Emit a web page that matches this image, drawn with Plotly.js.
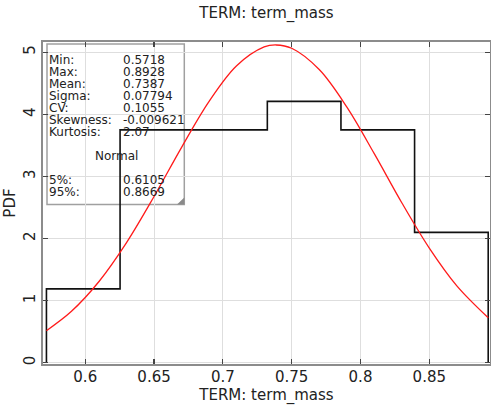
<!DOCTYPE html>
<html>
<head>
<meta charset="utf-8">
<script src="https://cdn.plot.ly/plotly-3.0.1.min.js"></script>
<style>html,body{margin:0;padding:0;background:#fff;}#chart{width:491px;height:406px;}</style>
</head>
<body>
<div id="chart"></div>
<script>
// ---- data ----
var binEdges = [0.5718, 0.6253, 0.6788, 0.7323, 0.7858, 0.8393, 0.8928];
var binDensity = [1.19, 3.75, 3.75, 4.21, 3.75, 2.10];
var fitX = [0.5718, 0.59, 0.61, 0.63, 0.65, 0.67, 0.69, 0.71, 0.73, 0.7387, 0.75, 0.77, 0.79, 0.81, 0.83, 0.85, 0.87, 0.8928];
var fitY = [0.517, 0.829, 1.309, 1.935, 2.678, 3.470, 4.210, 4.783, 5.086, 5.118, 5.065, 4.722, 4.121, 3.368, 2.577, 1.846, 1.238, 0.725];
var statLabels = ['Min:', 'Max:', 'Mean:', 'Sigma:', 'CV:', 'Skewness:', 'Kurtosis:'];
var statValues = ['0.5718', '0.8928', '0.7387', '0.07794', '0.1055', '-0.009621', '2.07'];
var fitName = 'Normal';
var pctLabels = ['5%:', '95%:'];
var pctValues = ['0.6105', '0.8669'];
var xTickVals = [0.6, 0.65, 0.7, 0.75, 0.8, 0.85];
var xTickText = ['0.6', '0.65', '0.7', '0.75', '0.8', '0.85'];
var yTickVals = [0, 1, 2, 3, 4, 5];

// ---- build step outline of histogram ----
var hx = [binEdges[0]], hy = [0];
for (var i = 0; i < binDensity.length; i++) { hx.push(binEdges[i]); hy.push(binDensity[i]); }
hx.push(binEdges[binEdges.length - 1]); hy.push(binDensity[binDensity.length - 1]);
hx.push(binEdges[binEdges.length - 1]); hy.push(0);

var W = 491, H = 406;
var M = {l: 43, r: 1, t: 42, b: 42};
var PW = W - M.l - M.r, PH = H - M.t - M.b;
function px(x) { return (x - M.l) / PW; }
function py(y) { return (H - M.b - y) / PH; }

var font = 'DejaVu Sans, Verdana, sans-serif';
// multi-line blocks: base font sets the 12px line pitch, spans set the 12px glyph size
var baseF = {family: font, size: 12 / 1.3, color: '#222'};
function block(lines) {
  return lines.map(function (t) { return '<span style="font-size:12px">' + t + '</span>'; }).join('<br>');
}
var annotations = [
  {xref: 'paper', yref: 'paper', x: px(48), y: py(96), xanchor: 'left', yanchor: 'middle', align: 'left', text: block(statLabels), showarrow: false, font: baseF, borderpad: 0},
  {xref: 'paper', yref: 'paper', x: px(121.5), y: py(96), xanchor: 'left', yanchor: 'middle', align: 'left', text: block(statValues), showarrow: false, font: baseF, borderpad: 0},
  {xref: 'paper', yref: 'paper', x: px(116), y: py(156), xanchor: 'center', yanchor: 'middle', text: fitName, showarrow: false, font: {family: font, size: 12, color: '#222'}, borderpad: 0},
  {xref: 'paper', yref: 'paper', x: px(48), y: py(185.5), xanchor: 'left', yanchor: 'middle', align: 'left', text: block(pctLabels), showarrow: false, font: baseF, borderpad: 0},
  {xref: 'paper', yref: 'paper', x: px(121.5), y: py(185.5), xanchor: 'left', yanchor: 'middle', align: 'left', text: block(pctValues), showarrow: false, font: baseF, borderpad: 0}
];

var shapes = [
  {type: 'rect', xref: 'paper', yref: 'paper', x0: px(47), x1: px(184.3), y0: py(204.5), y1: py(44), line: {color: '#a0a0a0', width: 1.5}, fillcolor: 'rgba(255,255,255,0.65)', layer: 'between'},
  {type: 'path', xref: 'paper', yref: 'paper', path: 'M ' + px(177) + ' ' + py(204.5) + ' L ' + px(184.3) + ' ' + py(204.5) + ' L ' + px(184.3) + ' ' + py(197.5) + ' Z', fillcolor: '#8a8a8a', line: {width: 0}, layer: 'above'}
];

var traces = [
  {x: hx, y: hy, type: 'scatter', mode: 'lines', line: {color: '#111', width: 1.6, shape: 'hv'}, hoverinfo: 'skip'},
  {x: fitX, y: fitY, type: 'scatter', mode: 'lines', line: {color: '#ff1a1a', width: 1.3, shape: 'spline', smoothing: 1}, hoverinfo: 'skip'}
];

var axisCommon = {
  showline: true, linecolor: '#8c8c8c', linewidth: 2, mirror: 'ticks',
  ticks: 'inside', ticklen: 5, tickcolor: '#444', tickwidth: 1.2,
  showgrid: true, gridcolor: '#dedede', gridwidth: 1, zeroline: false,
  tickfont: {family: font, size: 15, color: '#222'}
};

var layout = {
  width: W, height: H, margin: {l: M.l, r: M.r, t: M.t, b: M.b, pad: 0},
  paper_bgcolor: '#fff', plot_bgcolor: '#fff', showlegend: false,
  font: {family: font, color: '#222'},
  title: {text: 'TERM: term_mass', font: {family: font, size: 15, color: '#222'}, xref: 'paper', x: 0.5, xanchor: 'center', y: 0.968, yanchor: 'middle'},
  xaxis: Object.assign({}, axisCommon, {range: [0.5693, 0.8941], tickvals: xTickVals, ticktext: xTickText, ticklabelstandoff: -2,
    title: {text: 'TERM: term_mass', font: {family: font, size: 15, color: '#222'}, standoff: 0}}),
  yaxis: Object.assign({}, axisCommon, {range: [-0.02, 5.166], tickvals: yTickVals, tickangle: -90,
    title: {text: 'PDF', font: {family: font, size: 15, color: '#222'}, standoff: 2}}),
  annotations: annotations, shapes: shapes
};

Plotly.newPlot('chart', traces, layout, {displayModeBar: false, staticPlot: true});
</script>
</body>
</html>
